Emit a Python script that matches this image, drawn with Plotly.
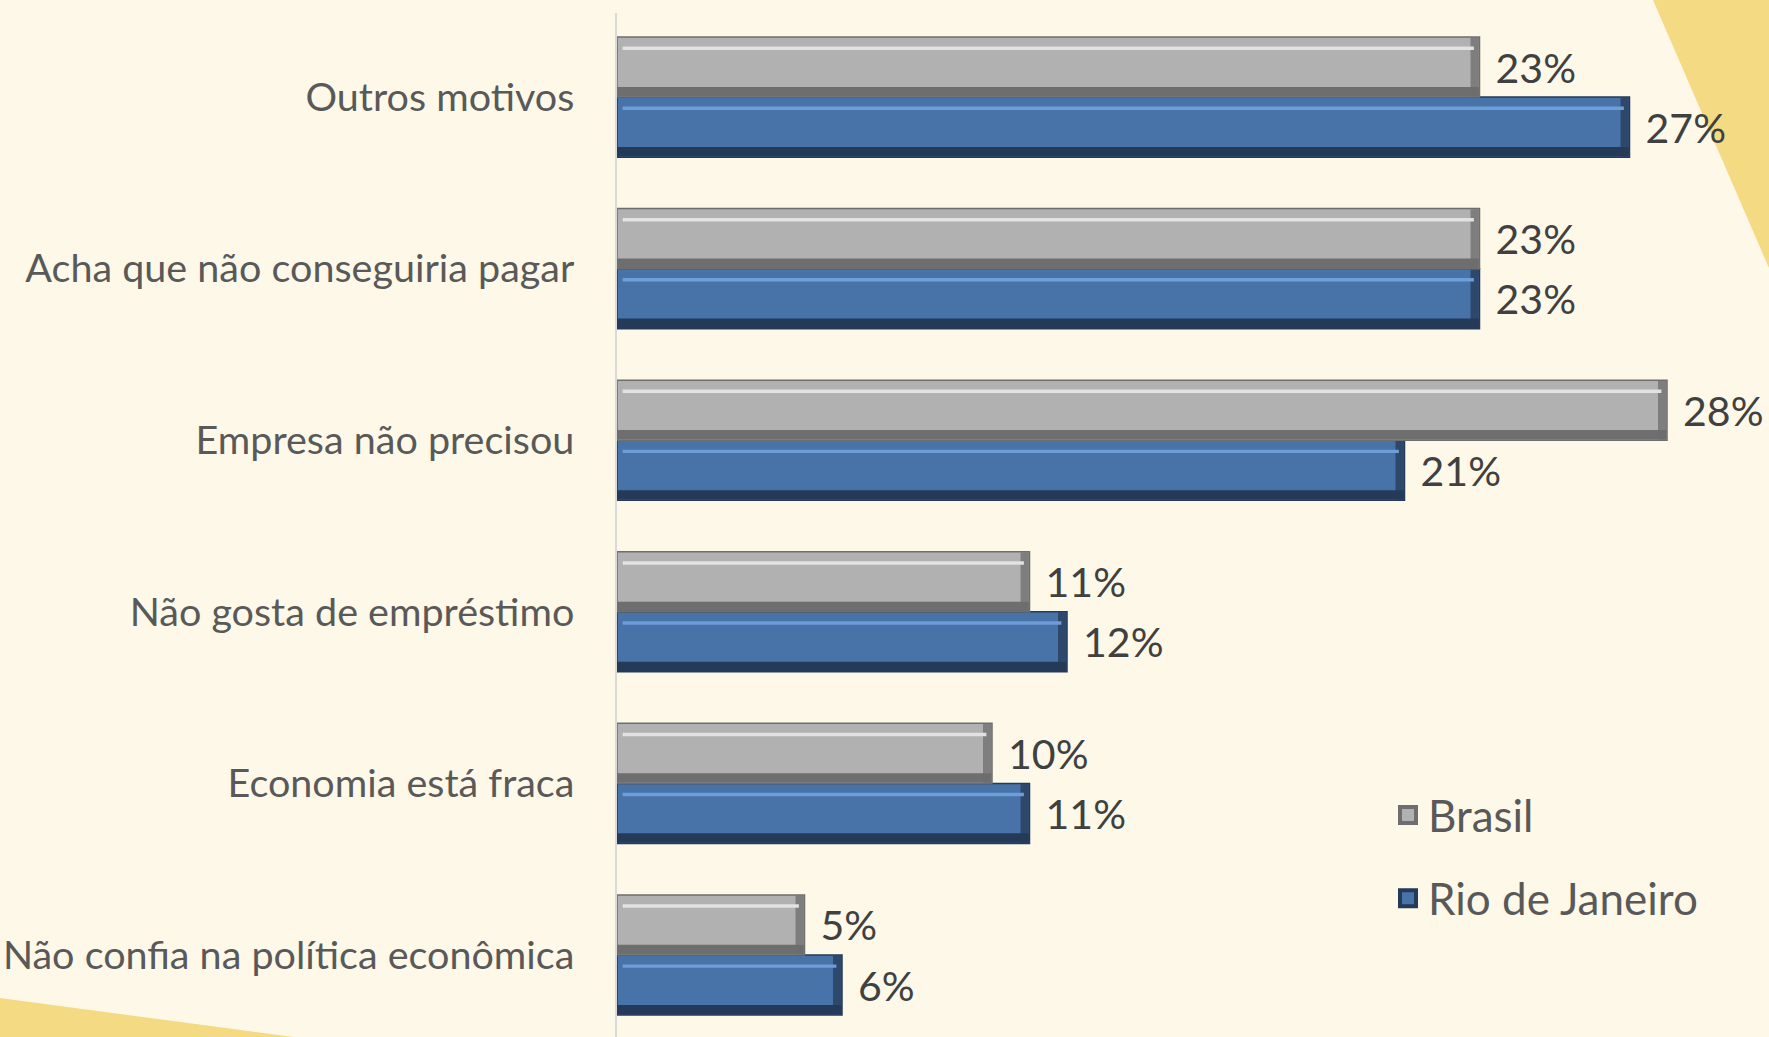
import plotly.graph_objects as go

categories = ["Não confia na política econômica", "Economia está fraca", "Não gosta de empréstimo",
              "Empresa não precisou", "Acha que não conseguiria pagar", "Outros motivos"]
brasil = [5, 10, 11, 28, 23, 23]
rio = [6, 11, 12, 21, 23, 27]
series_names = ["Brasil", "Rio de Janeiro"]

W, H = 1769, 1037
ML, MR, MT, MB = 617, 0, 13, 0
PW, PH = W - ML - MR, H - MT - MB
PX_PER_PCT = 37.5
BG = "#FEF8E8"
YEL = "#F5DA84"

bw = 0.35  # bar thickness in category units
styles = {
    "Brasil": dict(off=0.0, dark="#6E6E6E", body="#B1B1B1", hi="#E2E2E2"),
    "Rio de Janeiro": dict(off=-bw, dark="#253A58", body="#4773A8", hi="#6E9DD8"),
}

fig = go.Figure()
for name, vals in (("Rio de Janeiro", rio), ("Brasil", brasil)):
    s = styles[name]
    fig.add_trace(go.Bar(
        y=categories, x=vals, orientation="h", name=name,
        offset=s["off"], width=bw,
        marker=dict(color=s["body"], line=dict(color=s["dark"], width=1.5)),
        text=["\u00a0\u200a%d%%" % v for v in vals], textposition="outside",
        textfont=dict(size=41, color="#404040", family="Lato"),
        cliponaxis=False, legendgroup=name, showlegend=False,
        hovertemplate="%{y}: %{x}%<extra>" + name + "</extra>",
    ))
    # bevel: dark bottom band
    fig.add_trace(go.Bar(
        y=categories, x=[v - 0.02 for v in vals], orientation="h",
        offset=s["off"] + 0.004, width=0.055,
        marker=dict(color=s["dark"], line=dict(width=0)),
        showlegend=False, hoverinfo="skip",
    ))
    # bevel: right end shade
    fig.add_trace(go.Bar(
        y=categories, x=[0.22] * len(vals), base=[v - 0.24 for v in vals], orientation="h",
        offset=s["off"] + 0.004, width=bw - 0.008,
        marker=dict(color=s["dark"], opacity=0.75, line=dict(width=0)),
        showlegend=False, hoverinfo="skip",
    ))
    # bevel: top highlight stripe
    fig.add_trace(go.Bar(
        y=categories, x=[v - 0.3 for v in vals], base=[0.15] * len(vals), orientation="h",
        offset=s["off"] + bw - 0.075, width=0.02,
        marker=dict(color=s["hi"], line=dict(width=0)),
        showlegend=False, hoverinfo="skip",
    ))

# legend entries (larger square symbols)
for name in series_names:
    s = styles[name]
    fig.add_trace(go.Scatter(
        x=[None], y=[None], mode="markers", name=name, legendgroup=name,
        marker=dict(symbol="square", size=16, color=s["body"], line=dict(color=s["dark"], width=4)),
        legendrank=1 if name == "Brasil" else 2, hoverinfo="skip",
    ))

def px(x):
    return (x - ML) / PW

def py(y):
    return (H - MB - y) / PH

shapes = [
    dict(type="path", xref="paper", yref="paper", layer="below", line=dict(width=0), fillcolor=YEL,
         path=f"M {px(1653)} {py(0)} L {px(1769)} {py(0)} L {px(1769)} {py(268)} Z"),
    dict(type="path", xref="paper", yref="paper", layer="below", line=dict(width=0), fillcolor=YEL,
         path=f"M {px(0)} {py(998)} L {px(293)} {py(1037)} L {px(0)} {py(1037)} Z"),
]

fig.update_layout(
    width=W, height=H, margin=dict(l=ML, r=MR, t=MT, b=MB, pad=0),
    paper_bgcolor=BG, plot_bgcolor="rgba(0,0,0,0)",
    barmode="overlay", shapes=shapes,
    font=dict(family="Lato", color="#595959"),
    xaxis=dict(range=[0, PW / PX_PER_PCT], visible=False, fixedrange=True),
    yaxis=dict(type="category", categoryorder="array", categoryarray=categories,
               range=[-0.478, 5.49], showline=True, linecolor="#D9D9D9", linewidth=1.5,
               showgrid=False, ticks="", ticklabelstandoff=33,
               tickfont=dict(size=39.5, color="#595959", family="Lato"), fixedrange=True),
    legend=dict(x=px(1388), y=py(780), xanchor="left", yanchor="top",
                font=dict(size=44, color="#595959", family="Lato"),
                bgcolor="rgba(0,0,0,0)", tracegroupgap=23, itemwidth=30,
                traceorder="grouped"),
    showlegend=True,
)

fig.write_html("out.html", config={"displayModeBar": False},
               post_script="document.body.style.margin='0';document.body.style.background='" + BG + "';")
